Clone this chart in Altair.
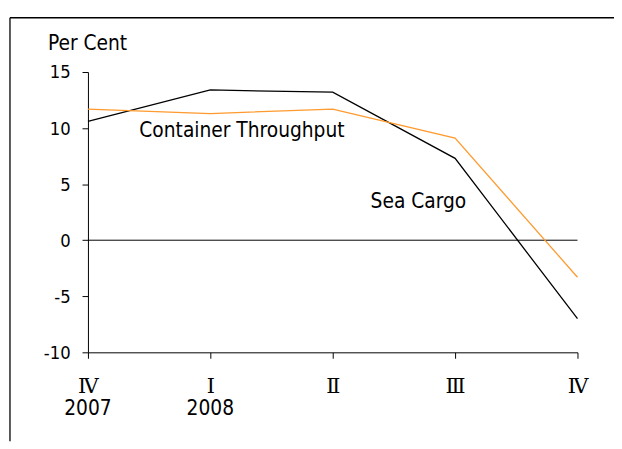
import altair as alt
import pandas as pd

# ---- data ----
quarter_labels = ["Ⅳ", "Ⅰ", "Ⅱ", "Ⅲ", "Ⅳ"]
year_labels = ["2007", "2008"]
sea_cargo = [10.6, 13.4, 13.2, 7.3, -7.0]
container_throughput = [11.7, 11.3, 11.7, 9.1, -3.3]
series_names = ["Sea Cargo", "Container Throughput"]
series_colors = ["#000000", "#FF9A2E"]

idx = list(range(len(quarter_labels)))
rows = []
for name, vals in zip(series_names, [sea_cargo, container_throughput]):
    for i, v in zip(idx, vals):
        rows.append({"idx": i, "value": v, "series": name})
df = pd.DataFrame(rows)

years_df = pd.DataFrame({"idx": [0, 1], "year": year_labels})

# annotation anchors in data coordinates
annot_left = pd.DataFrame({"idx": [0.42], "value": [9.2], "text": ["Container Throughput"]})
annot_center = pd.DataFrame({"idx": [2.70], "value": [2.9], "text": ["Sea Cargo"]})

W, H = 496, 284
SANS = "DejaVu Sans Condensed, DejaVu Sans, Liberation Sans"
FS = 21

label_expr = "[" + ",".join('"%s"' % q for q in quarter_labels) + "][datum.value]"

x_scale = alt.Scale(domain=[0, len(quarter_labels) - 1], nice=False, zero=False)
y_scale = alt.Scale(domain=[-10, 15], nice=False)

x_enc = alt.X(
    "idx:Q", scale=x_scale,
    axis=alt.Axis(
        values=idx, labelExpr=label_expr, title=None, grid=False,
        tickSize=6, labelPadding=35, labelBaseline="alphabetic",
        labelFont="DejaVu Serif", labelFontSize=21, labelColor="#000000",
        domainColor="#000000", tickColor="#000000", labelFlush=False,
    ),
)
y_enc = alt.Y(
    "value:Q", scale=y_scale,
    axis=alt.Axis(
        values=[-10, -5, 0, 5, 10, 15], labelExpr="'' + datum.value",
        title="Per Cent", grid=False,
        tickSize=6, labelPadding=12, labelFont=SANS, labelFontSize=18.5,
        labelColor="#000000", domainColor="#000000", tickColor="#000000",
        titleAngle=0, titleAlign="left", titleBaseline="alphabetic",
        titleX=-41, titleY=-23, titleFont=SANS, titleFontSize=FS,
        titleFontWeight="normal", titleColor="#000000", labelFlush=False,
    ),
)

lines = alt.Chart(df).mark_line(strokeWidth=1.3).encode(
    x=x_enc,
    y=y_enc,
    color=alt.Color("series:N", scale=alt.Scale(domain=series_names, range=series_colors), legend=None),
    detail="series:N",
)

zero = alt.Chart(pd.DataFrame({"z": [0]})).mark_rule(color="#000000", strokeWidth=1).encode(
    y=alt.Y("z:Q", scale=y_scale)
)

annots1 = alt.Chart(annot_left).mark_text(
    font=SANS, fontSize=FS, color="#000000", baseline="alphabetic", align="left"
).encode(
    x=alt.X("idx:Q", scale=x_scale),
    y=alt.Y("value:Q", scale=y_scale),
    text="text:N",
)
annots2 = alt.Chart(annot_center).mark_text(
    font=SANS, fontSize=FS, color="#000000", baseline="alphabetic", align="center"
).encode(
    x=alt.X("idx:Q", scale=x_scale),
    y=alt.Y("value:Q", scale=y_scale),
    text="text:N",
)

years = alt.Chart(years_df).mark_text(
    font=SANS, fontSize=FS, color="#000000", baseline="alphabetic", align="center"
).encode(
    x=alt.X("idx:Q", scale=x_scale),
    y=alt.value(H + 64),
    text="year:N",
)

border_top = alt.Chart(pd.DataFrame({"a": [0]})).mark_rule(color="#000000", strokeWidth=1.3).encode(
    x=alt.value(-79), x2=alt.value(W + 37), y=alt.value(-55)
)
border_left = alt.Chart(pd.DataFrame({"a": [0]})).mark_rule(color="#000000", strokeWidth=1.3).encode(
    x=alt.value(-79), y=alt.value(-55), y2=alt.value(H + 90)
)

chart = alt.layer(zero, lines, annots1, annots2, years, border_top, border_left).properties(
    width=W, height=H,
    autosize=alt.AutoSizeParams(type="none"),
    padding={"left": 81, "top": 62, "right": 37, "bottom": 90},
).configure(background="#ffffff").configure_view(strokeWidth=0)

chart.save("out.html", embed_options={"renderer": "svg", "actions": False})
